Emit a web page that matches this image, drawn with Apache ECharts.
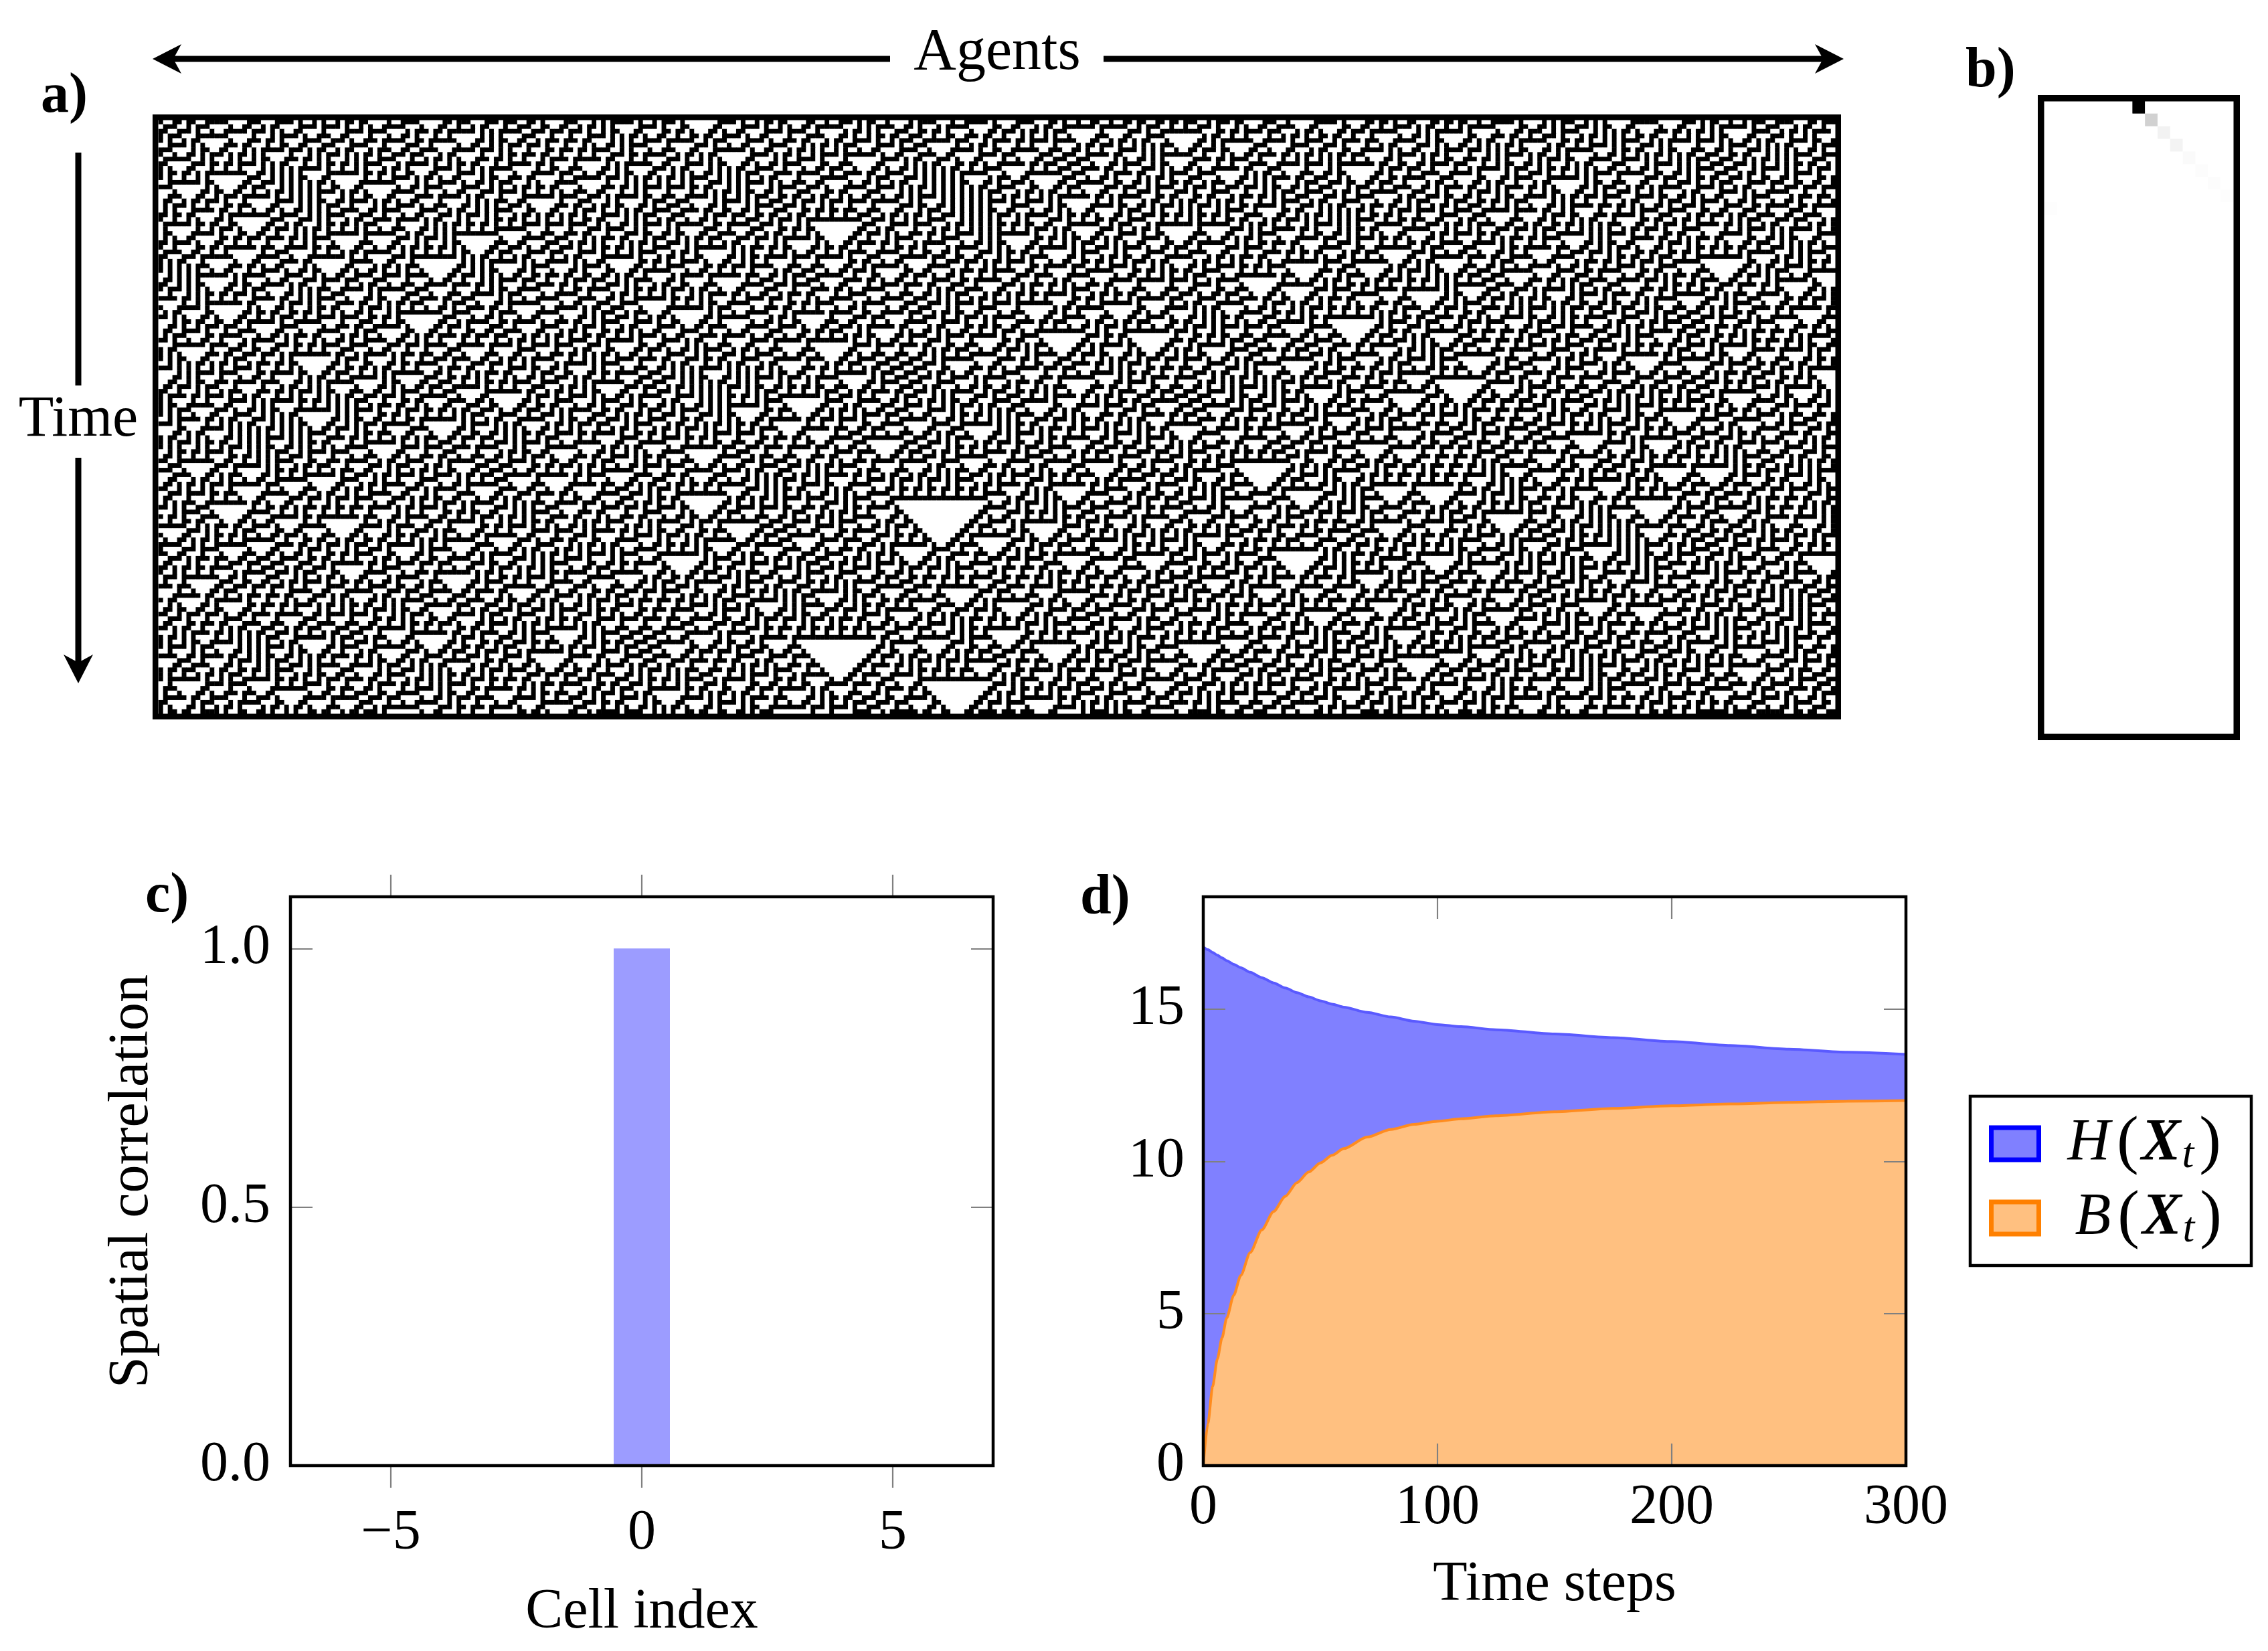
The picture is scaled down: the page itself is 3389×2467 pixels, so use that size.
<!DOCTYPE html>
<html><head><meta charset="utf-8">
<script src="https://cdn.jsdelivr.net/npm/echarts@6/dist/echarts.min.js"></script>
<style>html,body{margin:0;padding:0;background:#fff}#c{width:3389px;height:2467px}</style>
</head><body><div id="c"></div>
<script>
// ================= DATA =================
// a) elementary cellular automaton (rule 30), initial row estimated by hand
const caRule = 30;
const caCols = 360;
const caRows = 128;
const caInitialRowHex = "9b3e1c7a52d84f06e3b9a1c57d2e80f4b6193ac85e27d0f1a4c9b36e5d8720fa1b4c6d93e8572a0fc1d64b9e37";

// b) space-time correlation map: 15 lags x 50 steps, non-zero cells [lagIndex, step, value]
const corrLagCount = 15;
const corrStepCount = 50;
const corrCells = [[7,0,1.0],[8,1,0.18],[9,2,0.05],[10,3,0.047],[11,4,0.02],[12,5,0.012],[13,6,0.012],[14,7,0.006],[0,8,0.008]];

// c) spatial correlation vs cell index
const cellIndex   = [-7,-6,-5,-4,-3,-2,-1,0,1,2,3,4,5,6,7];
const spatialCorr = [ 0, 0, 0, 0, 0, 0, 0,1,0,0,0,0,0,0,0];
const cellTicks = [-5,0,5];
const corrTicks = [0,0.5,1.0];

// d) H(X_t) and B(X_t) vs time steps
const timeSteps = [0,2,4,6,8,10,13,16,20,25,30,35,40,45,50,55,60,70,80,90,100,110,125,150,175,200,225,250,275,300];
const entropyH  = [17.05,16.96,16.87,16.78,16.69,16.6,16.48,16.37,16.22,16.04,15.87,15.7,15.55,15.41,15.28,15.17,15.07,14.9,14.75,14.61,14.5,14.43,14.33,14.19,14.07,13.94,13.81,13.69,13.59,13.52];
const entropyB  = [0,1.4,2.6,3.5,4.2,4.85,5.6,6.25,7.0,7.75,8.35,8.85,9.3,9.65,9.95,10.2,10.42,10.8,11.05,11.22,11.32,11.4,11.5,11.63,11.74,11.83,11.89,11.94,11.98,12.0];
const timeTicks = [0,100,200,300];
const entropyTicks = [0,5,10,15];

// ================= BUILD =================
function hexToBits(hex, n) {
  const bits = [];
  for (const ch of hex) { const v = parseInt(ch, 16); for (let k = 3; k >= 0; k--) bits.push((v >> k) & 1); }
  return bits.slice(0, n);
}
const caData = [];
let row = hexToBits(caInitialRowHex, caCols);
for (let t = 0; t < caRows; t++) {
  for (let i = 0; i < caCols; i++) caData.push([i, t, row[i]]);
  const next = [];
  for (let i = 0; i < caCols; i++) {
    const L = row[(i - 1 + caCols) % caCols], C = row[i], R = row[(i + 1) % caCols];
    next.push((caRule >> ((L << 2) | (C << 1) | R)) & 1);
  }
  row = next;
}
const caColCats = Array.from({length: caCols}, (_, i) => i);
const caRowCats = Array.from({length: caRows}, (_, i) => i);

const corrLookup = {};
corrCells.forEach(c => { corrLookup[c[0] + '_' + c[1]] = c[2]; });
const corrData = [];
for (let s = 0; s < corrStepCount; s++)
  for (let l = 0; l < corrLagCount; l++) corrData.push([l, s, corrLookup[l + '_' + s] || 0]);
const corrLagCats = Array.from({length: corrLagCount}, (_, i) => i);
const corrStepCats = Array.from({length: corrStepCount}, (_, i) => i);

const barData = cellIndex.map((x, i) => [x, spatialCorr[i]]);
const hData = timeSteps.map((t, i) => [t, entropyH[i]]);
const bData = timeSteps.map((t, i) => [t, entropyB[i]]);

// ================= LAYOUT / STYLE =================
const FONT = '"Liberation Serif", "Times New Roman", serif';
const FS = 84;
const tickLine = {color: '#808080', width: 2.2};
const gA = {left: 237, top: 179, width: 2506, height: 888};
const gB = {left: 3055, top: 151, width: 282, height: 946};
const gC = {left: 434, top: 1340, width: 1050, height: 850};
const gD = {left: 1798, top: 1340, width: 1050, height: 850};
const labelStyle = {fontFamily: FONT, fontSize: FS, color: '#000'};
const minus = v => (v < 0 ? '\u2212' + Math.abs(v) : String(v));

function valAxis(grid, pos, min, max, ticks, inside, labels, extra) {
  return Object.assign({
    gridIndex: grid, type: 'value', position: pos, min: min, max: max, z: 10,
    axisLine: {show: false, onZero: false}, splitLine: {show: false},
    axisTick: {show: true, inside: inside, length: 33, lineStyle: tickLine, customValues: ticks},
    axisLabel: labels ? Object.assign({customValues: labels}, labelStyle) : {show: false}
  }, extra || {});
}

const chart = echarts.init(document.getElementById('c'), null, {renderer: 'canvas'});

function frame(g, lw) {
  return {type: 'rect', z: 100, silent: true,
    shape: {x: g.left, y: g.top, width: g.width, height: g.height},
    style: {fill: null, stroke: '#000', lineWidth: lw}};
}
function txt(text, x, y, font, align) {
  return {type: 'text', z: 100, silent: true,
    style: {text: text, x: x, y: y, font: font, fill: '#000',
      textAlign: align || 'left', textVerticalAlign: 'middle', align: align || 'left', verticalAlign: 'middle'}};
}
const bold = 'bold ' + FS + 'px ' + FONT;
const AW = 9; // arrow line width

const graphics = [
  // panel frames
  {type: 'rect', z: 100, silent: true, shape: {x: 232.25, y: 175.25, width: 2514.5, height: 895.5}, style: {fill: null, stroke: '#000', lineWidth: 8.5}},
  {type: 'rect', z: 100, silent: true, shape: {x: 3049.75, y: 146.75, width: 292.5, height: 954.5}, style: {fill: null, stroke: '#000', lineWidth: 9.5}},
  frame(gC, 4.5), frame(gD, 4.5),
  // legend frame
  {type: 'rect', z: 100, silent: true, shape: {x: 2944, y: 1638, width: 420, height: 253}, style: {fill: null, stroke: '#000', lineWidth: 4.5}},
  // Agents arrow
  {type: 'line', z: 100, silent: true, shape: {x1: 255, y1: 88, x2: 1330, y2: 88}, style: {stroke: '#000', lineWidth: AW}},
  {type: 'line', z: 100, silent: true, shape: {x1: 1649, y1: 88, x2: 2728, y2: 88}, style: {stroke: '#000', lineWidth: AW}},
  {type: 'polygon', z: 100, silent: true, shape: {points: [[228, 88], [271, 66], [259, 88], [271, 110]]}, style: {fill: '#000'}},
  {type: 'polygon', z: 100, silent: true, shape: {points: [[2755, 88], [2712, 66], [2724, 88], [2712, 110]]}, style: {fill: '#000'}},
  txt('Agents', 1490, 80, '88px ' + FONT, 'center'),
  // Time arrow
  {type: 'line', z: 100, silent: true, shape: {x1: 117, y1: 228, x2: 117, y2: 576}, style: {stroke: '#000', lineWidth: AW}},
  {type: 'line', z: 100, silent: true, shape: {x1: 117, y1: 684, x2: 117, y2: 995}, style: {stroke: '#000', lineWidth: AW}},
  {type: 'polygon', z: 100, silent: true, shape: {points: [[117, 1021], [95, 978], [117, 990], [139, 978]]}, style: {fill: '#000'}},
  txt('Time', 117, 628, '86px ' + FONT, 'center'),
  // panel letters
  txt('a)', 61, 145, bold),
  txt('b)', 2937, 107, bold),
  txt('c)', 217, 1340, bold),
  txt('d)', 1614, 1343, bold)
];

const option = {
  animation: false,
  backgroundColor: '#fff',
  grid: [
    Object.assign({}, gA), Object.assign({}, gB), Object.assign({}, gC), Object.assign({}, gD)
  ],
  xAxis: [
    {gridIndex: 0, type: 'category', data: caColCats, show: false},
    {gridIndex: 1, type: 'category', data: corrLagCats, show: false},
    valAxis(2, 'bottom', -7, 7, cellTicks, false, cellTicks, {
      axisLabel: Object.assign({customValues: cellTicks, margin: 60, formatter: minus}, labelStyle),
      name: 'Cell index', nameLocation: 'middle', nameGap: 178, nameTextStyle: labelStyle}),
    valAxis(2, 'top', -7, 7, cellTicks, false, null),
    valAxis(3, 'bottom', 0, 300, [100, 200], true, timeTicks, {
      axisLabel: Object.assign({customValues: timeTicks, margin: 22}, labelStyle),
      name: 'Time steps', nameLocation: 'middle', nameGap: 137, nameTextStyle: labelStyle}),
    valAxis(3, 'top', 0, 300, [100, 200], true, null)
  ],
  yAxis: [
    {gridIndex: 0, type: 'category', data: caRowCats, inverse: true, show: false},
    {gridIndex: 1, type: 'category', data: corrStepCats, inverse: true, show: false},
    valAxis(2, 'left', 0, 1.1, [0.5, 1.0], true, corrTicks, {
      axisLabel: Object.assign({customValues: corrTicks, margin: 30, formatter: v => v.toFixed(1)}, labelStyle),
      name: 'Spatial correlation', nameLocation: 'middle', nameGap: 194, nameRotate: 90, nameTextStyle: labelStyle}),
    valAxis(2, 'right', 0, 1.1, [0.5, 1.0], true, null),
    valAxis(3, 'left', 0, 18.7, [5, 10, 15], true, entropyTicks, {
      axisLabel: Object.assign({customValues: entropyTicks, margin: 28}, labelStyle)}),
    valAxis(3, 'right', 0, 18.7, [5, 10, 15], true, null)
  ],
  visualMap: [
    {type: 'continuous', show: false, seriesIndex: 0, min: 0, max: 1, inRange: {color: ['#ffffff', '#000000']}},
    {type: 'continuous', show: false, seriesIndex: 1, min: 0, max: 1, inRange: {color: ['#ffffff', '#000000']}}
  ],
  legend: {
    show: true, orient: 'vertical', left: 2972, top: 1659, padding: 0,
    itemWidth: 71, itemHeight: 48, itemGap: 11, icon: 'rect', selectedMode: false,
    data: [
      {name: 'H', icon: 'rect', itemStyle: {color: '#8080ff', borderColor: '#0000ff', borderWidth: 7}},
      {name: 'B', icon: 'rect', itemStyle: {color: '#ffc080', borderColor: '#ff8000', borderWidth: 7}}
    ],
    formatter: name => name === 'H' ? '{hi|H}{p|(}{x|X}{s|t}{p|)}' : '{bi|B}{p|(}{x|X}{s|t}{p|)}',
    textStyle: {
      fontFamily: FONT, fontSize: FS, color: '#000', lineHeight: 100,
      rich: {
        hi: {fontFamily: FONT, fontSize: 88, fontStyle: 'italic', lineHeight: 100, padding: [0, 6, 0, 38]},
        bi: {fontFamily: FONT, fontSize: 88, fontStyle: 'italic', lineHeight: 100, padding: [0, 6, 0, 49]},
        p: {fontFamily: FONT, fontSize: 98, fontWeight: 'normal', lineHeight: 100, padding: [0, 4, 0, 4]},
        x: {fontFamily: FONT, fontSize: 88, fontStyle: 'italic', fontWeight: 'bold', lineHeight: 100},
        s: {fontFamily: FONT, fontSize: 64, fontStyle: 'italic', lineHeight: 66, verticalAlign: 'bottom', padding: [0, 4, 0, 2]}
      }
    }
  },
  graphic: graphics,
  series: [
    {type: 'heatmap', xAxisIndex: 0, yAxisIndex: 0, data: caData, progressive: 0, itemStyle: {borderWidth: 0}, emphasis: {disabled: true}},
    {type: 'heatmap', xAxisIndex: 1, yAxisIndex: 1, data: corrData, progressive: 0, itemStyle: {borderWidth: 0}, emphasis: {disabled: true}},
    {type: 'bar', xAxisIndex: 2, yAxisIndex: 2, data: barData, barWidth: 84, clip: true,
      itemStyle: {color: '#9c9cff', borderWidth: 0}, emphasis: {disabled: true}},
    {name: 'H', type: 'line', xAxisIndex: 4, yAxisIndex: 4, data: hData, showSymbol: false, smooth: 0.25, smoothMonotone: 'x',
      lineStyle: {color: '#5a5aff', width: 4}, itemStyle: {color: '#8080ff'},
      areaStyle: {color: '#8080ff', opacity: 1}, z: 2, emphasis: {disabled: true}},
    {name: 'B', type: 'line', xAxisIndex: 4, yAxisIndex: 4, data: bData, showSymbol: false, smooth: 0.25, smoothMonotone: 'x',
      lineStyle: {color: '#ff8c1f', width: 4}, itemStyle: {color: '#ffc080'},
      areaStyle: {color: '#ffc080', opacity: 1}, z: 3, emphasis: {disabled: true}}
  ]
};
chart.setOption(option);
</script>
</body></html>
